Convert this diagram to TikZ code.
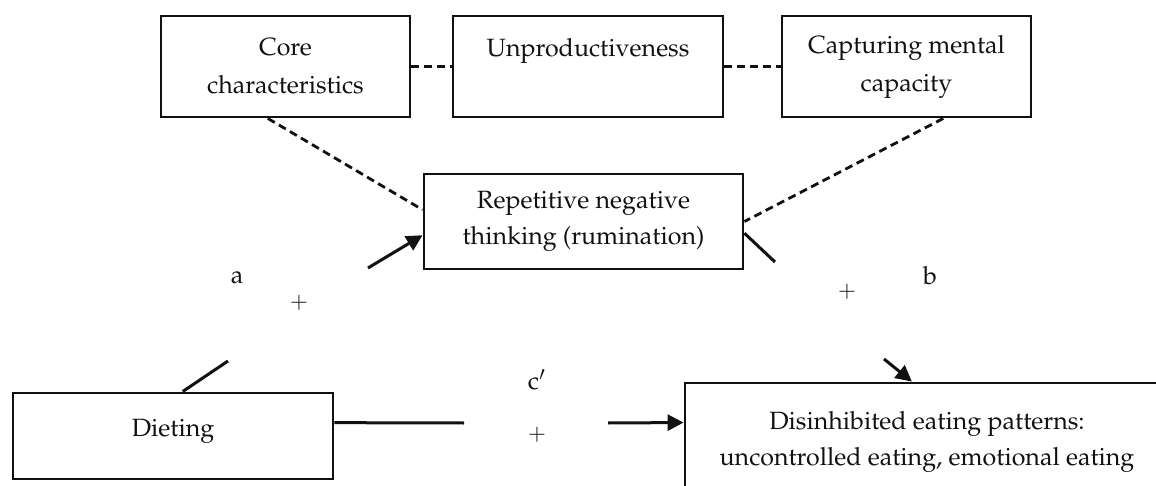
\documentclass[tikz,border=0pt]{standalone}
\usepackage[T1]{fontenc}
\usepackage{mathpazo}
\usepackage{tikz}
\usetikzlibrary{arrows.meta,positioning,calc}
\definecolor{RNInk}{HTML}{111111}
\tikzset{
  flow/.style={-{Triangle[length=8pt,width=8pt]},RNInk,line width=1.5pt},
  leg/.style={RNInk,line width=1.5pt},
  link/.style={RNInk,line width=1.4pt,dash pattern=on 4pt off 2.4pt},
  card/.style={draw=RNInk,line width=1.45pt,fill=white,text=RNInk,align=center,
               inner sep=0pt,font=\fontsize{12.5}{18}\selectfont},
  cardtop/.style={card,minimum height=50.5pt,font=\fontsize{12.5}{19}\selectfont},
  coef/.style={text=RNInk,font=\fontsize{12.5}{15}\selectfont},
  sign/.style={text=RNInk,font=\fontsize{11}{13}\selectfont},
}

\begin{document}
\begin{tikzpicture}[x=0.5pt,y=-0.5pt]
    \useasboundingbox (0,0) rectangle (1156,486);
    \clip (0,0) rectangle (1156,486);
    % top row
    \node[cardtop,minimum width=124.5pt] (core) at (285.5,66.5)
      {Core\\characteristics};
    \node[cardtop,minimum width=135pt] (unprod) at (588,66.5)
      {Unproductiveness\\\mbox{}};
    \node[cardtop,minimum width=124.5pt] (capture) at (906.5,66.5)
      {Capturing mental\\capacity};
    \draw[link] (core.east) -- (unprod.west);
    \draw[link] (unprod.east) -- (capture.west);

    % mediator and the two ends
    \node[card,minimum width=159.5pt,minimum height=47.5pt] (rnt) at (583.5,221.5)
      {Repetitive negative\\thinking (rumination)};
    \node[card,minimum width=160pt,minimum height=43pt] (diet) at (173,436)
      {Dieting\\[-10pt]\mbox{}};
    \node[card,minimum width=242pt,minimum height=58.5pt] (eat) at (927,441.5)
      {Disinhibited eating patterns:\\uncontrolled eating, emotional eating};

    \draw[link] ($(core.south west)!0.43!(core.south east)$) -- ($(rnt.north west)!0.38!(rnt.south west)$);
    \draw[link] ($(capture.south west)!0.646!(capture.south east)$) -- (rnt.east);

    % path a
    \coordinate (aLow) at (228,361);
    \coordinate (aHigh) at (368,268);
    \draw[leg] ($(diet.north west)!0.53!(diet.north east)$) -- (aLow);
    \draw[flow] (aHigh) -- ($(rnt.north west)!0.64!(rnt.south west)$);
    \node[coef] (aName) at (237,277) {a};
    \node[sign] (aSign) at (299,303) {$+$};

    % path b
    \coordinate (bHigh) at (775,262);
    \coordinate (bLow) at (884,359);
    \draw[leg] ($(rnt.north east)!0.62!(rnt.south east)$) -- (bHigh);
    \draw[flow] (bLow) -- ($(eat.north west)!0.469!(eat.north east)$);
    \node[sign] (bSign) at (847,292) {$+$};
    \node[coef] (bName) at (930,275) {b};

    % path c'
    \coordinate (cLeft) at (464,423);
    \coordinate (cRight) at (608,423);
    \draw[leg] ($(diet.north east)!0.35!(diet.south east)$) -- (cLeft);
    \draw[flow] (cRight) -- ($(eat.north west)!0.342!(eat.south west)$);
    \node[coef] (cName) at (537,380) {c$'$};
    \node[sign] (cSign) at (537,435) {$+$};
  \end{tikzpicture}
\end{document}
